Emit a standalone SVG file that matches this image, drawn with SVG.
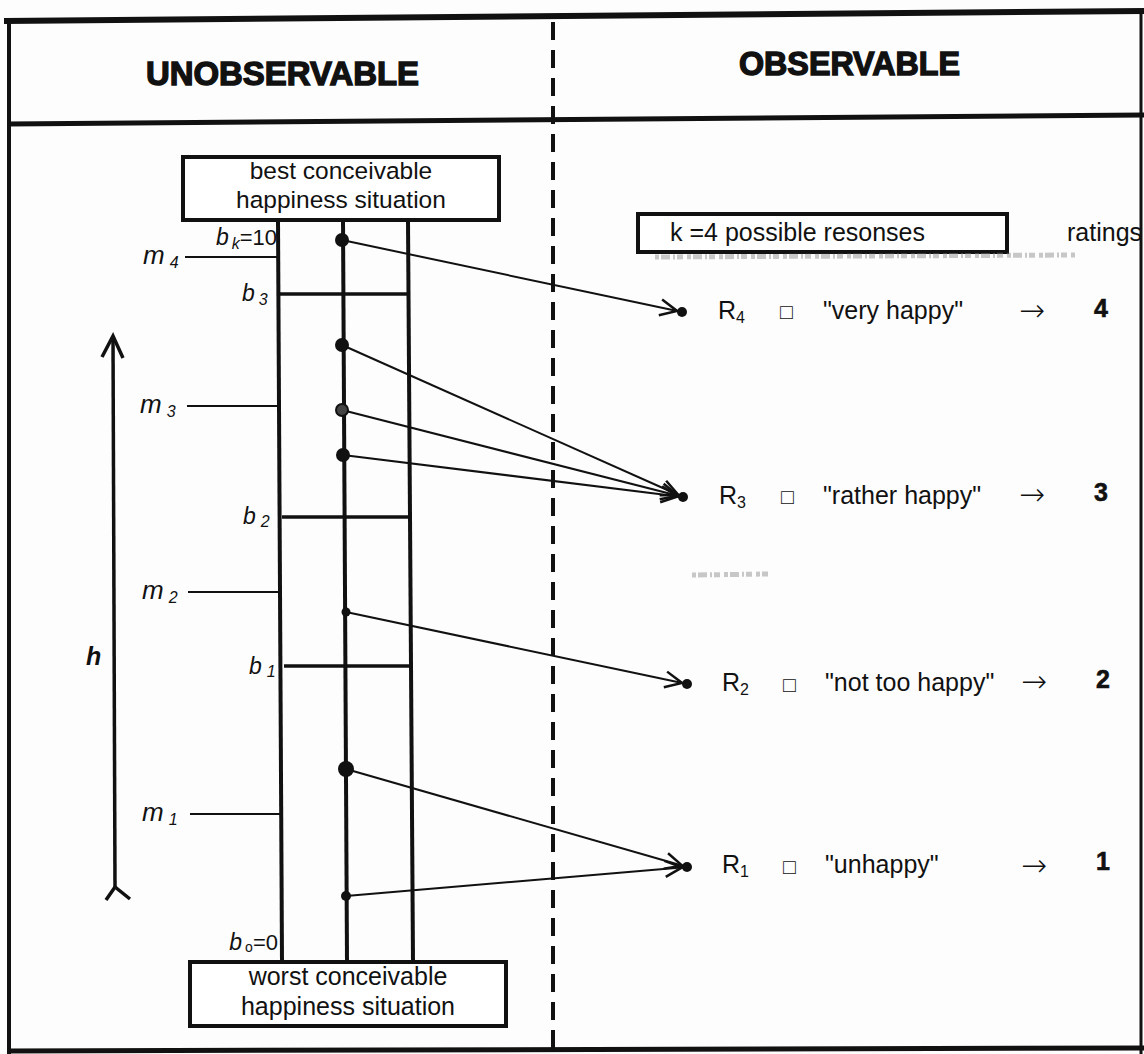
<svg xmlns="http://www.w3.org/2000/svg" width="1144" height="1054" viewBox="0 0 1144 1054">
<style>
.t{font-family:"Liberation Sans",Arial,sans-serif;fill:#111}
.hd{font-family:"Liberation Sans",Arial,sans-serif;font-weight:bold;font-size:33px;fill:#111;stroke:#111;stroke-width:1.4}
.box{fill:#fff;stroke:#111;stroke-width:4}
.rail{stroke:#111;stroke-width:4;fill:none}
.bl{stroke:#111;stroke-width:3.5}
.ml{stroke:#111;stroke-width:2}
.it{font-family:"Liberation Sans",Arial,sans-serif;font-style:italic;fill:#111}
.con{stroke:#111;stroke-width:2;fill:none;marker-end:url(#ah)}
.dot{fill:#111}
.sq{font-family:"Liberation Sans","DejaVu Sans",sans-serif;font-size:21px;fill:#111}
.arr{font-family:"DejaVu Sans",sans-serif;font-weight:200;font-size:31px;fill:#111}
.num{font-family:"Liberation Sans",Arial,sans-serif;font-weight:bold;font-size:25px;fill:#111;stroke:#111;stroke-width:0.6}
.lbl{font-size:25px}
.smudge{stroke:#888;stroke-width:5;opacity:0.45;stroke-dasharray:4 2 9 3 2 2 6 4}
</style>
<defs>
<marker id="ah" markerUnits="userSpaceOnUse" markerWidth="40" markerHeight="40" viewBox="-30 -20 40 40" refX="0" refY="0" orient="auto" overflow="visible">
<path d="M-22,-8 L-5,0 L-22,8" fill="none" stroke="#111" stroke-width="2.5"/>
</marker>
</defs>
<rect width="1144" height="1054" fill="#fdfdfd"/>

<g id="frame">
<line x1="4" y1="21" x2="1144" y2="11" stroke="#111" stroke-width="6"/>
<line x1="8" y1="124" x2="1144" y2="115" stroke="#111" stroke-width="5"/>
<line x1="9" y1="18" x2="9" y2="1054" stroke="#111" stroke-width="4"/>
<line x1="1141" y1="12" x2="1141" y2="1054" stroke="#111" stroke-width="3"/>
<line x1="8" y1="1051" x2="1144" y2="1048" stroke="#111" stroke-width="5"/>
<line x1="553" y1="22" x2="553" y2="1054" stroke="#111" stroke-width="4" stroke-dasharray="18 10"/>
</g>

<g id="header">
<text class="hd" x="146" y="85" textLength="273" lengthAdjust="spacingAndGlyphs">UNOBSERVABLE</text>
<text class="hd" x="739" y="75" textLength="221" lengthAdjust="spacingAndGlyphs">OBSERVABLE</text>
</g>

<g id="scale">
<line class="rail" x1="278" y1="220" x2="282" y2="962"/>
<line class="rail" x1="343" y1="220" x2="347" y2="962"/>
<line class="rail" x1="408" y1="220" x2="413" y2="962"/>
<line class="bl" x1="280" y1="294" x2="407" y2="294"/>
<line class="bl" x1="282" y1="517" x2="408" y2="517"/>
<line class="bl" x1="284" y1="666" x2="409" y2="666"/>
<line class="ml" x1="185" y1="257" x2="278" y2="257"/>
<line class="ml" x1="187" y1="406" x2="279" y2="406"/>
<line class="ml" x1="188" y1="592" x2="280" y2="592"/>
<line class="ml" x1="190" y1="814" x2="281" y2="814"/>
</g>

<g id="best-box">
<rect class="box" x="183" y="157" width="316" height="63"/>
<text class="t" x="341" y="179" font-size="24.5" text-anchor="middle">best conceivable</text>
<text class="t" x="341" y="208" font-size="24.5" text-anchor="middle">happiness situation</text>
</g>

<g id="worst-box">
<rect class="box" x="190" y="962" width="316" height="64"/>
<text class="t" x="348" y="985" font-size="25" text-anchor="middle">worst conceivable</text>
<text class="t" x="348" y="1015" font-size="25" text-anchor="middle">happiness situation</text>
</g>

<g id="labels-b">
<text class="it" x="277" y="245" font-size="23" text-anchor="end">b<tspan font-size="16" dx="3" dy="4">k</tspan><tspan font-style="normal" font-size="22" dy="-4">=10</tspan></text>
<text class="it" x="242" y="301" font-size="23">b<tspan font-size="16" dx="4" dy="4">3</tspan></text>
<text class="it" x="243" y="524" font-size="23">b<tspan font-size="16" dx="5" dy="3">2</tspan></text>
<text class="it" x="249" y="674" font-size="23">b<tspan font-size="16" dx="5" dy="3">1</tspan></text>
<text class="it" x="278" y="950" font-size="23" text-anchor="end">b<tspan font-size="14" dx="3" dy="2" font-style="normal">o</tspan><tspan font-style="normal" font-size="22" dy="-2">=0</tspan></text>
</g>

<g id="labels-m">
<text class="it" x="143" y="264" font-size="26">m<tspan font-size="16" dx="5" dy="4">4</tspan></text>
<text class="it" x="140" y="413" font-size="26">m<tspan font-size="16" dx="5" dy="4">3</tspan></text>
<text class="it" x="142" y="599" font-size="26">m<tspan font-size="16" dx="5" dy="4">2</tspan></text>
<text class="it" x="142" y="821" font-size="26">m<tspan font-size="16" dx="5" dy="4">1</tspan></text>
</g>

<g id="h-axis">
<line x1="113" y1="336" x2="115" y2="888" stroke="#111" stroke-width="3.5"/>
<polyline points="102,357 113,336 123,358" fill="none" stroke="#111" stroke-width="3.5"/>
<polyline points="106,900 115,887 130,899" fill="none" stroke="#111" stroke-width="3.5"/>
<text class="it" x="86" y="665" font-size="25" font-weight="bold">h</text>
</g>

<g id="connectors">
<line class="con" x1="342" y1="240" x2="682" y2="312"/>
<line class="con" x1="342" y1="345" x2="683" y2="497"/>
<line class="con" x1="342" y1="410" x2="683" y2="497"/>
<line class="con" x1="343" y1="455" x2="683" y2="497"/>
<line class="con" x1="346" y1="612" x2="687" y2="684"/>
<line class="con" x1="346" y1="769" x2="687" y2="867"/>
<line class="con" x1="346" y1="896" x2="687" y2="867"/>
</g>

<g id="points">
<circle class="dot" cx="342" cy="240" r="7"/>
<circle class="dot" cx="342" cy="345" r="7"/>
<circle cx="342" cy="410" r="6" fill="#444" stroke="#111" stroke-width="2"/>
<circle class="dot" cx="343" cy="455" r="7"/>
<circle class="dot" cx="346" cy="612" r="4.5"/>
<circle class="dot" cx="346" cy="769" r="8"/>
<circle class="dot" cx="346" cy="896" r="5"/>
</g>

<g id="k-box">
<rect class="box" x="638" y="214" width="369" height="38"/>
<text class="t lbl" x="670" y="241">k =4 possible resonses</text>
<line class="smudge" x1="655" y1="257" x2="1075" y2="255"/>
<line class="smudge" x1="692" y1="575" x2="768" y2="574" opacity="0.3"/>
<text class="t lbl" x="1067" y="241">ratings</text>
</g>

<g id="R4">
<circle class="dot" cx="682" cy="312" r="5"/>
<text class="t lbl" x="718" y="319">R<tspan font-size="16" dy="4">4</tspan></text>
<text class="sq" x="780" y="319">□</text>
<text class="t lbl" x="823" y="319">"very happy"</text>
<text class="arr" x="1019" y="321">→</text>
<text class="num" x="1094" y="317">4</text>
</g>

<g id="R3">
<circle class="dot" cx="683" cy="497" r="5"/>
<text class="t lbl" x="719" y="504">R<tspan font-size="16" dy="4">3</tspan></text>
<text class="sq" x="781" y="504">□</text>
<text class="t lbl" x="823" y="504">"rather happy"</text>
<text class="arr" x="1019" y="505">→</text>
<text class="num" x="1094" y="501">3</text>
</g>

<g id="R2">
<circle class="dot" cx="687" cy="684" r="5"/>
<text class="t lbl" x="722" y="691">R<tspan font-size="16" dy="4">2</tspan></text>
<text class="sq" x="783" y="692">□</text>
<text class="t lbl" x="825" y="691">"not too happy"</text>
<text class="arr" x="1021" y="692">→</text>
<text class="num" x="1096" y="688">2</text>
</g>

<g id="R1">
<circle class="dot" cx="687" cy="867" r="5"/>
<text class="t lbl" x="722" y="873">R<tspan font-size="16" dy="4">1</tspan></text>
<text class="sq" x="783" y="874">□</text>
<text class="t lbl" x="825" y="873">"unhappy"</text>
<text class="arr" x="1021" y="876">→</text>
<text class="num" x="1096" y="870">1</text>
</g>
</svg>
